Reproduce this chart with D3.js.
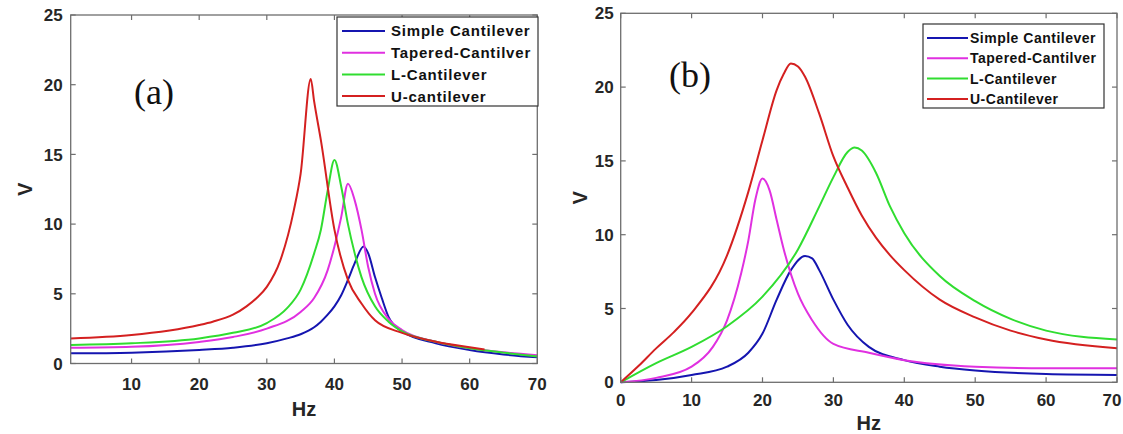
<!DOCTYPE html>
<html>
<head>
<meta charset="utf-8">
<script src="https://cdn.jsdelivr.net/npm/d3@7"></script>
<style>
  body { margin: 0; background: #fff; }
  svg { display: block; }
</style>
</head>
<body>
<svg id="chart" width="1123" height="434"></svg>
<script>
// series names (panel a has lowercase "U-cantilever")
const namesA = ["Simple Cantilever", "Tapered-Cantilver", "L-Cantilever", "U-cantilever"];
const namesB = ["Simple Cantilever", "Tapered-Cantilver", "L-Cantilever", "U-Cantilever"];
const colors = ["#1515b0", "#e030e0", "#30dd30", "#d42020"];

const xTicksA = [10, 20, 30, 40, 50, 60, 70];
const xTicksB = [0, 10, 20, 30, 40, 50, 60, 70];
const yTicks = [0, 5, 10, 15, 20, 25];

// panel (a) - Hz / V pairs
const simpleA_hz = [1, 10, 20, 25, 30, 33, 35, 37, 38, 39, 40, 41, 42, 43, 44.3, 45, 46, 47, 48, 50, 55, 60, 65, 70];
const simpleA_v  = [0.73, 0.78, 0.97, 1.13, 1.45, 1.8, 2.1, 2.6, 3.0, 3.5, 4.1, 4.9, 6.0, 7.2, 8.4, 7.9, 6.2, 4.7, 3.35, 2.3, 1.45, 0.97, 0.65, 0.44];
const taperA_hz  = [1, 10, 20, 25, 30, 35, 37, 39, 40, 41, 42, 43, 44, 45, 46, 48, 50, 55, 60, 65, 70];
const taperA_v   = [1.13, 1.2, 1.55, 1.9, 2.5, 3.7, 4.7, 6.7, 8.4, 10.5, 12.9, 11.7, 9.6, 6.9, 5.0, 3.2, 2.4, 1.56, 1.1, 0.8, 0.6];
const lA_hz      = [1, 10, 20, 25, 30, 33, 35, 37, 38, 39, 40, 41, 42, 43, 44, 46, 48, 50, 55, 60, 65, 70];
const lA_v       = [1.33, 1.45, 1.8, 2.2, 2.9, 3.97, 5.3, 7.9, 9.6, 12.4, 14.6, 12.7, 10.0, 7.9, 6.2, 4.1, 3.0, 2.3, 1.56, 1.1, 0.78, 0.5];
const uA_hz      = [1, 10, 20, 22, 25, 27, 28.5, 30, 32, 34, 35, 36.5, 37, 38, 40, 42, 44, 46, 50, 55, 60, 62.2];
const uA_v       = [1.8, 2.04, 2.76, 3.0, 3.5, 4.1, 4.7, 5.5, 7.4, 11.0, 13.6, 20.4, 18.8, 16.0, 9.6, 6.0, 4.3, 3.1, 2.2, 1.56, 1.16, 1.0];

// panel (b)
const simpleB_hz = [0, 5, 10, 15, 18, 20, 22, 24, 26, 27, 28, 30, 32, 35, 40, 45, 50, 60, 70];
const simpleB_v  = [0, 0.15, 0.5, 1.06, 2.0, 3.3, 5.6, 7.6, 8.56, 8.4, 7.6, 5.6, 3.9, 2.4, 1.5, 1.06, 0.8, 0.56, 0.5];
const taperB_hz  = [0, 5, 10, 13, 15, 17, 18, 19, 20, 21, 22, 23, 25, 27, 30, 35, 40, 50, 60, 70];
const taperB_v   = [0, 0.3, 1.06, 2.4, 4.2, 7.4, 9.6, 12.4, 13.8, 13.0, 11.0, 9.0, 6.0, 4.2, 2.6, 2.0, 1.5, 1.06, 0.95, 0.95];
const lB_hz      = [0, 5, 10, 15, 20, 25, 28, 30, 32, 33, 34, 36, 38, 40, 45, 50, 55, 60, 70];
const lB_v       = [0, 1.3, 2.4, 3.8, 5.8, 9.0, 11.9, 13.9, 15.6, 15.9, 15.7, 14.2, 11.9, 10.1, 7.2, 5.5, 4.3, 3.5, 2.9];
const uB_hz      = [0, 2.5, 5, 7.5, 10, 15, 18, 20, 22, 23, 24, 25, 26, 28, 30, 32, 34, 36, 38, 40, 45, 50, 55, 60, 70];
const uB_v       = [0, 1.1, 2.3, 3.4, 4.7, 8.6, 12.9, 16.4, 19.8, 20.9, 21.6, 21.4, 20.7, 18.2, 15.3, 13.2, 11.3, 9.8, 8.6, 7.6, 5.6, 4.4, 3.5, 2.9, 2.3];

const svg = d3.select("#chart");
const svgWidth = +svg.attr("width");

function zipSeries(hz, v) {
  return hz.map((h, i) => ({ hz: h, v: v[i] }));
}

function drawPanel(opt) {
  const g = svg.append("g");
  const x = d3.scaleLinear().domain(opt.xDomain).range([opt.left, opt.right]);
  const y = d3.scaleLinear().domain([0, 25]).range([opt.bottom, opt.top]);
  const tickLen = 5;
  const axisColor = "#6e6e6e";
  const textColor = "#262626";
  const sans = "'Liberation Sans', Arial, sans-serif";

  // curves
  const line = d3.line()
    .x(d => x(d.hz))
    .y(d => y(d.v))
    .curve(d3.curveMonotoneX);

  opt.series.forEach((s, i) => {
    g.append("path")
      .datum(zipSeries(s[0], s[1]))
      .attr("d", line)
      .attr("fill", "none")
      .attr("stroke", colors[i])
      .attr("stroke-width", 2);
  });

  // box
  g.append("rect")
    .attr("x", opt.left).attr("y", opt.top)
    .attr("width", opt.right - opt.left)
    .attr("height", opt.bottom - opt.top)
    .attr("fill", "none")
    .attr("stroke", axisColor)
    .attr("stroke-width", 1.3);

  // inward ticks, mirrored top and right
  opt.xTicks.forEach(t => {
    [[opt.bottom, -tickLen], [opt.top, tickLen]].forEach(([yy, dl]) => {
      g.append("line")
        .attr("x1", x(t)).attr("x2", x(t))
        .attr("y1", yy).attr("y2", yy + dl)
        .attr("stroke", axisColor).attr("stroke-width", 1.2);
    });
  });
  yTicks.forEach(t => {
    [[opt.left, tickLen], [opt.right, -tickLen]].forEach(([xx, dl]) => {
      g.append("line")
        .attr("x1", xx).attr("x2", xx + dl)
        .attr("y1", y(t)).attr("y2", y(t))
        .attr("stroke", axisColor).attr("stroke-width", 1.2);
    });
  });

  // tick labels (last one pulled in if it would run off the page)
  g.selectAll("text.xtick")
    .data(opt.xTicks)
    .enter().append("text")
    .classed("xtick", true)
    .attr("x", d => Math.min(x(d), svgWidth - 11))
    .attr("y", opt.bottom + opt.xLabelGap)
    .attr("text-anchor", "middle")
    .style("font-family", sans)
    .attr("font-size", 17)
    .attr("font-weight", "bold")
    .attr("fill", textColor)
    .text(d => d);

  g.selectAll("text.ytick")
    .data(yTicks)
    .enter().append("text")
    .classed("ytick", true)
    .attr("x", opt.left - opt.yLabelGap)
    .attr("y", d => y(d))
    .attr("dy", "0.36em")
    .attr("text-anchor", "end")
    .style("font-family", sans)
    .attr("font-size", 17)
    .attr("font-weight", "bold")
    .attr("fill", textColor)
    .text(d => d);

  // axis titles
  g.append("text")
    .attr("x", (opt.left + opt.right) / 2)
    .attr("y", opt.hzY)
    .attr("text-anchor", "middle")
    .style("font-family", sans)
    .attr("font-size", 20)
    .attr("font-weight", "bold")
    .attr("fill", textColor)
    .text("Hz");

  g.append("text")
    .attr("transform", `translate(${opt.vX},${(opt.top + opt.bottom) / 2}) rotate(-90)`)
    .attr("text-anchor", "middle")
    .attr("dy", "0.36em")
    .style("font-family", sans)
    .attr("font-size", 20)
    .attr("font-weight", "bold")
    .attr("fill", textColor)
    .text("V");

  // panel letter
  g.append("text")
    .attr("x", opt.tagX).attr("y", opt.tagY)
    .style("font-family", "'Liberation Serif', 'Times New Roman', serif")
    .attr("font-size", 36)
    .attr("fill", "#111")
    .text(opt.tag);

  // legend
  const lg = opt.legend;
  g.append("rect")
    .attr("x", lg.x).attr("y", lg.y)
    .attr("width", lg.w).attr("height", lg.h)
    .attr("fill", "#fff")
    .attr("stroke", "#333")
    .attr("stroke-width", 1.2);

  opt.names.forEach((name, i) => {
    const yy = lg.rowY + i * lg.rowStep;
    g.append("line")
      .attr("x1", lg.x + lg.lineX0).attr("x2", lg.x + lg.lineX1)
      .attr("y1", yy).attr("y2", yy)
      .attr("stroke", colors[i])
      .attr("stroke-width", 2);
    g.append("text")
      .attr("x", lg.x + lg.textX)
      .attr("y", yy)
      .attr("dy", "0.36em")
      .style("font-family", sans)
      .attr("font-size", lg.fontSize)
      .attr("font-weight", "bold")
      .attr("letter-spacing", lg.spacing)
      .attr("fill", "#111")
      .text(name);
  });
}

drawPanel({
  xDomain: [1, 70], xTicks: xTicksA,
  left: 70.7, right: 537.3, top: 15, bottom: 363.5,
  xLabelGap: 26, yLabelGap: 8, hzY: 416, vX: 25,
  tag: "(a)", tagX: 134, tagY: 104,
  names: namesA,
  series: [[simpleA_hz, simpleA_v], [taperA_hz, taperA_v], [lA_hz, lA_v], [uA_hz, uA_v]],
  legend: { x: 337, y: 17, w: 201, h: 89, rowY: 31, rowStep: 21.7,
            lineX0: 5, lineX1: 48, textX: 54, fontSize: 15, spacing: 0.8 }
});

drawPanel({
  xDomain: [0, 70], xTicks: xTicksB,
  left: 620.7, right: 1117, top: 13.3, bottom: 382.3,
  xLabelGap: 24, yLabelGap: 7, hzY: 430, vX: 580,
  tag: "(b)", tagX: 669, tagY: 87,
  names: namesB,
  series: [[simpleB_hz, simpleB_v], [taperB_hz, taperB_v], [lB_hz, lB_v], [uB_hz, uB_v]],
  legend: { x: 923, y: 24, w: 181, h: 84, rowY: 38, rowStep: 20.3,
            lineX0: 4, lineX1: 45, textX: 47, fontSize: 14, spacing: 0.5 }
});
</script>
</body>
</html>
